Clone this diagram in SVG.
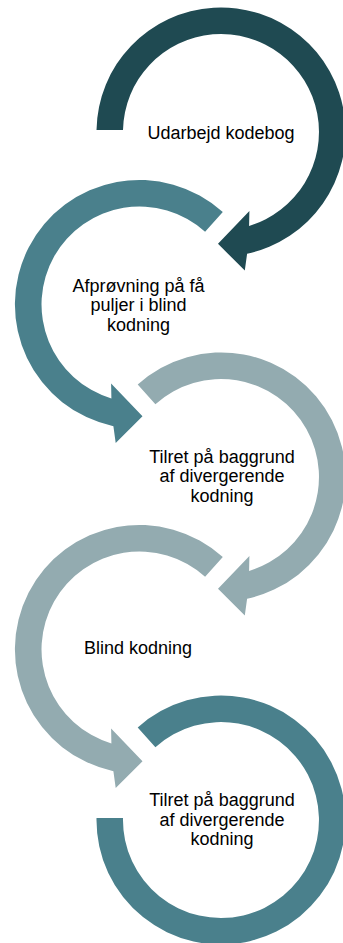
<svg xmlns="http://www.w3.org/2000/svg" width="343" height="943" viewBox="0 0 343 943">
<style>
.lbl{font-family:"Liberation Sans",Arial,sans-serif;font-size:18px;fill:#000;text-anchor:middle}
.dark{fill:#1F4A52}
.teal{fill:#4A808C}
.light{fill:#93ABB0}
</style>
<rect width="343" height="943" fill="#fff"/>
<g id="connectors"></g>
<g id="node1">
<path class="dark" d="M96.5,130 A124.5,124.5 0 1 1 247.1,253.7 L244.8,270.6 L218,243.8 L249.4,210.9 L249.1,225.9 A98,98 0 1 0 123,130 Z"/>
<text class="lbl" x="221" y="139">Udarbejd kodebog</text>
</g>
<g id="node2">
<path class="teal" d="M222.8,212 A124.5,124.5 0 1 0 113.4,426.2 L115.7,443.1 L142.5,416.3 L111.1,383.4 L111.4,398.4 A98,98 0 1 1 205.1,231.7 Z"/>
<text class="lbl" x="138.5" y="292">Afprøvning på få</text>
<text class="lbl" x="138.5" y="311">puljer i blind</text>
<text class="lbl" x="138.5" y="330.5">kodning</text>
</g>
<g id="node3">
<path class="light" d="M137.7,384.5 A124.5,124.5 0 1 1 247.1,598.7 L244.8,615.6 L218,588.8 L249.4,555.9 L249.1,570.9 A98,98 0 1 0 155.4,404.2 Z"/>
<text class="lbl" x="222" y="462.5">Tilret på baggrund</text>
<text class="lbl" x="222" y="482">af divergerende</text>
<text class="lbl" x="222" y="501.5">kodning</text>
</g>
<g id="node4">
<path class="light" d="M222.8,557 A124.5,124.5 0 1 0 113.4,771.2 L115.7,788.1 L142.5,761.3 L111.1,728.4 L111.4,743.4 A98,98 0 1 1 205.1,576.7 Z"/>
<text class="lbl" x="138" y="654">Blind kodning</text>
</g>
<g id="node5">
<path class="teal" d="M137.7,727.5 A124.5,124.5 0 1 1 96.5,818 L123,818 A98,98 0 1 0 155.4,747.2 Z"/>
<text class="lbl" x="222" y="806">Tilret på baggrund</text>
<text class="lbl" x="222" y="825.5">af divergerende</text>
<text class="lbl" x="222" y="845">kodning</text>
</g>
</svg>
